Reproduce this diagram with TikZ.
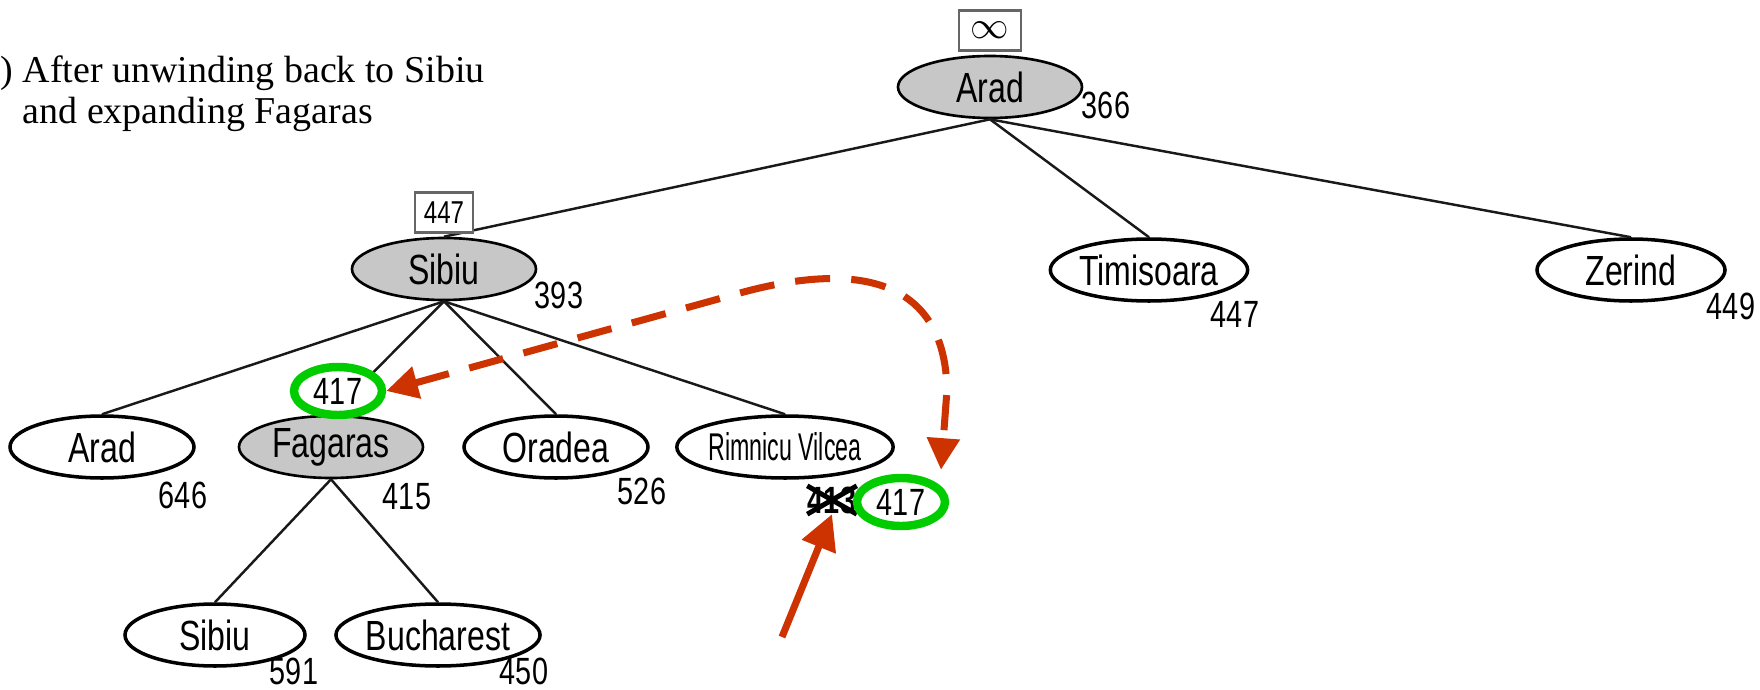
\documentclass[tikz,border=0pt]{standalone}
\usepackage{fontspec}
\setmainfont{Liberation Serif}
\newfontfamily\cityfont[FakeStretch=0.76]{Liberation Sans}
\newfontfamily\squeezefont[FakeStretch=0.6]{Liberation Sans}
\usepackage{xcolor}
\usepackage{tikz}
\usetikzlibrary{arrows.meta, positioning, shapes.geometric}
\definecolor{markred}{RGB}{204,51,0}
\definecolor{markgreen}{RGB}{0,204,0}

\begin{document}
\begin{tikzpicture}[
    city/.style={ellipse, draw, line width=1pt, fill=white, minimum width=1.84cm, minimum height=0.62cm, inner sep=0pt, font=\cityfont\fontsize{12}{13}\selectfont},
    expanded/.style={city, line width=0.75pt, fill=black!22},
    fval/.style={inner sep=0pt, font=\cityfont\fontsize{10.8}{12}\selectfont},
    limitbox/.style={draw=black!60, line width=0.8pt, fill=white, minimum width=0.6cm, minimum height=0.4cm, inner sep=0pt, font=\cityfont\fontsize{9}{10}\selectfont},
    ring/.style={ellipse, draw=markgreen, line width=2.4pt, fill=white, minimum width=0.88cm, minimum height=0.48cm, inner sep=0pt, font=\cityfont\fontsize{10.8}{12}\selectfont},
    branch/.style={line width=0.7pt, black!90},
    backlink/.style={markred, line width=2pt, dash pattern=on 10pt off 6pt, {Triangle[length=9pt,width=9pt]}-{Triangle[length=9pt,width=9pt]}},
    pointer/.style={markred, line width=2pt, -{Triangle[length=10pt,width=10pt]}}
  ]
    \useasboundingbox (0,0) rectangle (17.6,-6.9);

    \node[anchor=north west, align=left, inner sep=0pt, font=\fontsize{10.8}{11.8}\selectfont] (caption) at (0,-0.55)
      {)\ After unwinding back to Sibiu\\\hphantom{)\ }and expanding Fagaras};

    \node[expanded] (arad0) at (9.90,-0.87) {Arad};
    \node[expanded] (sibiu1) at (4.44,-2.69) {Sibiu};
    \node[city, minimum width=1.88cm] (timi) at (11.49,-2.70) {Timisoara};
    \node[city, minimum width=1.88cm] (zerind) at (16.31,-2.70) {Zerind};
    \node[city] (arad2) at (1.02,-4.47) {Arad};
    \node[expanded] (fagaras) at (3.31,-4.47) {Fagaras};
    \node[city] (oradea) at (5.56,-4.47) {Oradea};
    \node[city, font=\squeezefont\fontsize{11}{12}\selectfont] (rimnicu) at (7.85,-4.47) {Rimnicu Vilcea};
    \node[city, minimum width=1.80cm] (sibiu3) at (2.15,-6.35) {Sibiu};
    \node[city, minimum width=1.80cm] (buch) at (4.38,-6.35) {Bucharest};

    \draw[branch] (arad0.south) -- (sibiu1.north);
    \draw[branch] (arad0.south) -- (timi.north);
    \draw[branch] (arad0.south) -- (zerind.north);
    \draw[branch] (sibiu1.south) -- (arad2.north);
    \draw[branch] (sibiu1.south) -- (fagaras.north);
    \draw[branch] (sibiu1.south) -- (oradea.north);
    \draw[branch] (sibiu1.south) -- (rimnicu.north);
    \draw[branch] (fagaras.south) -- (sibiu3.north);
    \draw[branch] (fagaras.south) -- (buch.north);

    \node[limitbox, minimum width=0.62cm, above=0.03cm of arad0] (aradlim) {\fontsize{11}{12}\selectfont$\infty$};
    \node[limitbox, minimum width=0.58cm, above=0.03cm of sibiu1] (sibiulim) {447};

    \node[fval] (aradf) at (11.06,-1.05) {366};
    \node[fval] (sibiuf) at (5.59,-2.95) {393};
    \node[fval] (timif) at (12.35,-3.14) {447};
    \node[fval] (zerindf) at (17.31,-3.06) {449};
    \node[fval] (arad2f) at (1.83,-4.95) {646};
    \node[fval] (fagarasf) at (4.07,-4.97) {415};
    \node[fval] (oradeaf) at (6.42,-4.91) {526};
    \node[fval] (sibiu3f) at (2.94,-6.71) {591};
    \node[fval] (buchf) at (5.24,-6.71) {450};

    \node[fval, font=\cityfont\fontsize{10.8}{12}\bfseries] (oldf) at (8.32,-5.00) {413};
    \draw[line width=1.4pt] (oldf.north west) -- (oldf.south east) (oldf.south west) -- (oldf.north east);

    \node[ring] (fagring) at (3.38,-3.91) {417};
    \node[ring] (rimring) at (9.01,-5.02) {417};

    \draw[backlink] (fagring.east) -- (7.4,-2.93) .. controls (8.6,-2.6) and (9.45,-2.8) .. (9.47,-3.9) -- ([xshift=0.4cm, yshift=0.04cm]rimring.north);
    \coordinate (tail) at (7.82,-6.37);
    \draw[pointer] (tail) -- (oldf.south);
  \end{tikzpicture}
\end{document}
